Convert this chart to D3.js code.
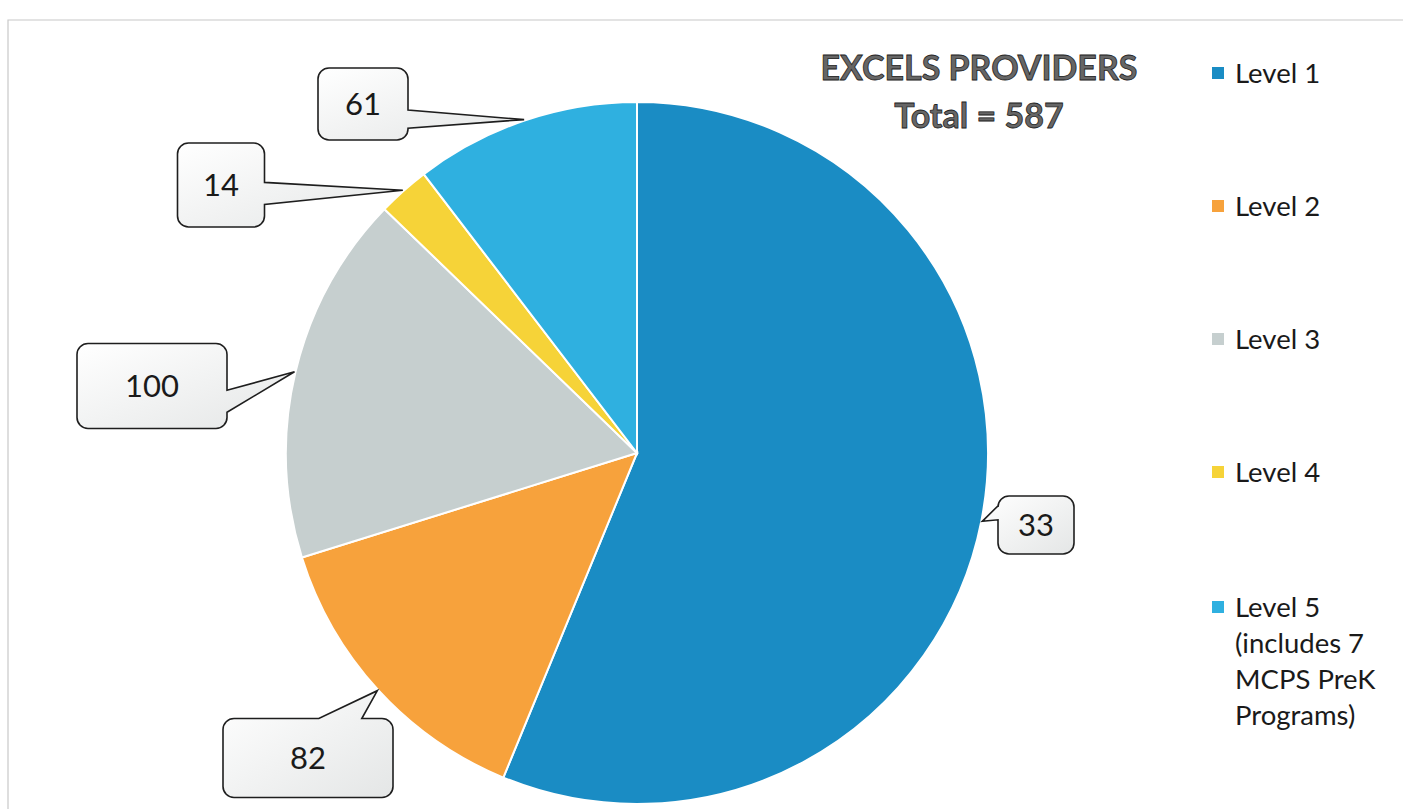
<!DOCTYPE html>
<html>
<head>
<meta charset="utf-8">
<script src="https://cdn.jsdelivr.net/npm/d3@7"></script>
<style>
  body { margin: 0; background: #fff; }
  svg { display: block; }
</style>
</head>
<body>
<div id="pie"></div>
<script>
var levels = ['Level 1', 'Level 2', 'Level 3', 'Level 4', 'Level 5'];
var providers = [330, 82, 100, 14, 61];
var calloutText = ['33', '82', '100', '14', '61'];
var legendLines = [['Level 1'], ['Level 2'], ['Level 3'], ['Level 4'],
  ['Level 5', '(includes 7', 'MCPS PreK', 'Programs)']];
var titleLines = ['EXCELS PROVIDERS', 'Total = 587'];

var colors = ['#1a8cc4', '#f7a23c', '#c6cfcf', '#f6d338', '#2fb0e0'];

// callout box layout: centre, size, side the pointer leaves from, where on that side, base width
var boxes = [
  {cx: 1036, cy: 525, w: 76, h: 58, side: 'left', at: 0.29, bw: 14},
  {cx: 308, cy: 758, w: 170, h: 79, side: 'top', at: 0.69, bw: 43},
  {cx: 152, cy: 386, w: 150, h: 85, side: 'right', at: 0.68, bw: 22},
  {cx: 221, cy: 185, w: 87, h: 84, side: 'right', at: 0.6, bw: 22},
  {cx: 363, cy: 104, w: 90, h: 72, side: 'right', at: 0.71, bw: 18}
];

var width = 1403, height = 809;
var cx = 637, cy = 453, radius = 351;

var svg = d3.select('#pie').append('svg')
  .attr('width', width)
  .attr('height', height);

// faint scanned frame
svg.append('path')
  .attr('d', 'M8,809 L8,20 L1403,20')
  .attr('fill', 'none')
  .attr('stroke', '#c8c8c8')
  .attr('stroke-width', 1.2);

var defs = svg.append('defs');
var grad = defs.append('linearGradient')
  .attr('id', 'boxfill')
  .attr('x1', 0).attr('y1', 0).attr('x2', 1).attr('y2', 1);
grad.append('stop').attr('offset', '0%').attr('stop-color', '#ffffff');
grad.append('stop').attr('offset', '100%').attr('stop-color', '#e4e6e6');

var g = svg.append('g')
  .attr('transform', 'translate(' + cx + ',' + cy + ')');

var pie = d3.pie().sort(null).value(function(d) { return d; });
var arcs = pie(providers);

var arc = d3.arc().innerRadius(0).outerRadius(radius);

g.selectAll('path.slice')
  .data(arcs)
  .enter()
  .append('path')
  .attr('class', 'slice')
  .attr('d', arc)
  .attr('fill', function(d, i) { return colors[i]; })
  .attr('stroke', '#fff')
  .attr('stroke-width', 2);

// callouts
function calloutPath(b, tip) {
  var x0 = b.cx - b.w / 2, y0 = b.cy - b.h / 2, x1 = x0 + b.w, y1 = y0 + b.h, r = 11;
  var p = d3.path();
  p.moveTo(x0 + r, y0);
  if (b.side === 'top') {
    var m = x0 + b.w * b.at;
    p.lineTo(m - b.bw / 2, y0); p.lineTo(tip[0], tip[1]); p.lineTo(m + b.bw / 2, y0);
  }
  p.lineTo(x1 - r, y0);
  p.arcTo(x1, y0, x1, y0 + r, r);
  if (b.side === 'right') {
    var mr = y0 + b.h * b.at;
    p.lineTo(x1, mr - b.bw / 2); p.lineTo(tip[0], tip[1]); p.lineTo(x1, mr + b.bw / 2);
  }
  p.lineTo(x1, y1 - r);
  p.arcTo(x1, y1, x1 - r, y1, r);
  p.lineTo(x0 + r, y1);
  p.arcTo(x0, y1, x0, y1 - r, r);
  if (b.side === 'left') {
    var ml = y0 + b.h * b.at;
    p.lineTo(x0, ml + b.bw / 2); p.lineTo(tip[0], tip[1]); p.lineTo(x0, ml - b.bw / 2);
  }
  p.lineTo(x0, y0 + r);
  p.arcTo(x0, y0, x0 + r, y0, r);
  p.closePath();
  return p.toString();
}

var callouts = svg.append('g');
arcs.forEach(function(d, i) {
  var a = (d.startAngle + d.endAngle) / 2;
  var tip = [cx + Math.sin(a) * (radius + 1), cy - Math.cos(a) * (radius + 1)];
  var b = boxes[i];
  callouts.append('path')
    .attr('d', calloutPath(b, tip))
    .attr('fill', 'url(#boxfill)')
    .attr('stroke', '#1e1e1e')
    .attr('stroke-width', 1.6);
  callouts.append('text')
    .attr('x', b.cx)
    .attr('y', b.cy + 11)
    .attr('text-anchor', 'middle')
    .attr('font-family', 'Lato, "Open Sans", sans-serif')
    .attr('font-size', 31)
    .attr('fill', '#1a1a1a')
    .text(calloutText[i]);
});

// title
svg.selectAll('text.title')
  .data(titleLines)
  .enter()
  .append('text')
  .attr('class', 'title')
  .attr('x', 979)
  .attr('y', function(d, i) { return 80 + i * 48; })
  .attr('text-anchor', 'middle')
  .attr('font-family', 'Lato, "Open Sans", sans-serif')
  .attr('font-weight', 'bold')
  .attr('font-size', 34)
  .attr('fill', '#666')
  .attr('stroke', '#222')
  .attr('stroke-width', 0.8)
  .text(function(d) { return d; });

// legend
var legendY = [73, 206, 339, 472, 607];
var legend = svg.append('g');
legendLines.forEach(function(lines, i) {
  legend.append('rect')
    .attr('x', 1212)
    .attr('y', legendY[i] - 6)
    .attr('width', 12)
    .attr('height', 12)
    .attr('fill', colors[i]);
  var t = legend.append('text')
    .attr('font-family', 'Lato, "Open Sans", sans-serif')
    .attr('font-size', 27.5)
    .attr('fill', '#1a1a1a');
  lines.forEach(function(line, j) {
    t.append('tspan')
      .attr('x', 1235)
      .attr('y', legendY[i] + 10 + j * 36)
      .text(line);
  });
});
</script>
</body>
</html>
